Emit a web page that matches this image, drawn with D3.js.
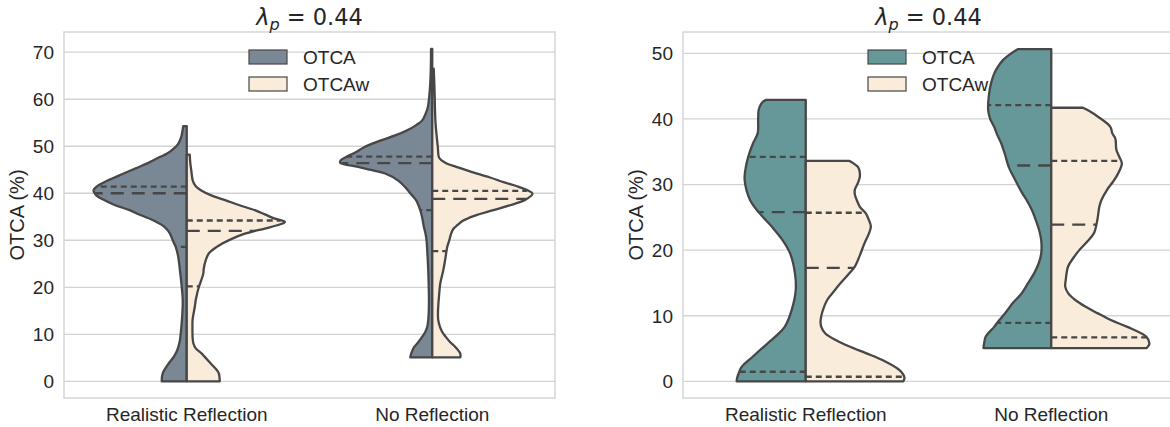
<!DOCTYPE html>
<html><head><meta charset="utf-8">
<script src="https://cdn.jsdelivr.net/npm/d3@7"></script>
<style>
html,body{margin:0;padding:0;background:#fff;}
svg{display:block;}
text{font-family:"Liberation Sans",Arial,sans-serif;fill:#262626;}
</style></head>
<body>
<svg id="chart" width="1170" height="427"></svg>
<script>
// ---------------- DATA ----------------
const categories = ["Realistic Reflection", "No Reflection"];
const seriesNames = ["OTCA", "OTCAw"];
const titleValue = "0.44";
const yLabel = "OTCA (%)";
const leftTicks = [0, 10, 20, 30, 40, 50, 60, 70];
const rightTicks = [0, 10, 20, 30, 40, 50];

// density profiles: [value, relative half-width]
// left panel
const L_real_OTCA = [[0,0.25],[1.7,0.24],[3.8,0.18],[5.2,0.13],[6.6,0.095],[8.5,0.07],[10.2,0.06],[14,0.045],[17.3,0.04],[20.1,0.05],[23,0.065],[26.5,0.085],[28.6,0.11],[30,0.14],[31.5,0.17],[32.8,0.22],[34.2,0.33],[35.7,0.50],[36.4,0.57],[37.5,0.72],[38.5,0.82],[39.5,0.90],[40.6,0.93],[41.7,0.88],[42.7,0.79],[44.2,0.63],[45.3,0.51],[46.3,0.40],[47.7,0.27],[48.4,0.20],[49.5,0.13],[50.5,0.085],[52,0.055],[54.3,0.035]];
const L_real_OTCAw = [[0,0.33],[1.7,0.32],[2.4,0.30],[3.8,0.24],[5.2,0.18],[5.9,0.15],[7,0.09],[8.1,0.066],[9.5,0.058],[11.6,0.057],[13,0.058],[15.8,0.08],[17.3,0.09],[20,0.12],[21.5,0.145],[22.9,0.165],[24,0.17],[25.8,0.19],[27.2,0.22],[28.6,0.30],[29.3,0.355],[30.3,0.45],[31.4,0.58],[32.5,0.78],[33.3,0.92],[33.9,0.98],[34.6,0.88],[35.5,0.78],[36.4,0.68],[37.5,0.52],[38.5,0.39],[39.5,0.25],[40.6,0.145],[41.5,0.09],[42.7,0.06],[44.9,0.045],[46.5,0.035],[48.2,0.03]];
const L_none_OTCA = [[5.1,0.22],[5.9,0.21],[7.3,0.18],[8.3,0.14],[9.5,0.10],[10.5,0.07],[11.6,0.05],[13,0.04],[16.6,0.033],[20,0.035],[23.6,0.04],[27,0.048],[30,0.057],[31.4,0.067],[33,0.085],[34.2,0.095],[35.7,0.11],[37,0.13],[38.5,0.16],[40,0.22],[41.3,0.27],[42.7,0.34],[44.2,0.47],[44.9,0.60],[45.6,0.74],[46.5,0.92],[47.1,0.91],[47.7,0.86],[48.8,0.76],[49.8,0.68],[51.2,0.52],[52.3,0.37],[53.4,0.25],[54.5,0.16],[55.5,0.10],[57,0.065],[58.3,0.044],[61.8,0.025],[66,0.015],[70.7,0.012]];
const L_none_OTCAw = [[5.1,0.28],[5.9,0.28],[7.3,0.23],[8.3,0.18],[9.5,0.133],[10.5,0.10],[11.6,0.077],[13,0.06],[14.4,0.057],[16,0.06],[18,0.067],[20.8,0.08],[23.6,0.11],[26,0.13],[28.6,0.15],[30,0.17],[31.5,0.19],[32.4,0.21],[33.2,0.25],[34.2,0.31],[35.2,0.42],[36.4,0.61],[37.8,0.83],[38.5,0.92],[39.9,1.00],[41.3,0.87],[42.3,0.72],[43.4,0.57],[44.5,0.40],[45.6,0.24],[46.5,0.13],[47.5,0.07],[49.8,0.056],[52,0.045],[54.8,0.033],[58,0.027],[61.8,0.023],[66.5,0.015]];
// right panel
const R_real_OTCA = [[0,0.69],[0.5,0.685],[1.2,0.67],[2.2,0.64],[3.75,0.53],[5.8,0.38],[7,0.29],[8.3,0.21],[10.9,0.14],[13.9,0.10],[16.5,0.108],[19.5,0.156],[21.5,0.23],[23.6,0.34],[25.6,0.46],[27.6,0.555],[30.7,0.61],[32.5,0.60],[34.2,0.575],[36.3,0.526],[37.8,0.48],[40,0.475],[41.4,0.47],[42.3,0.445],[42.7,0.42],[42.9,0.40]];
const R_real_OTCAw = [[0,0.975],[0.6,0.985],[1.7,0.936],[3.2,0.77],[4.3,0.60],[5.3,0.437],[6.3,0.30],[7.3,0.196],[8.3,0.155],[9.3,0.148],[10.8,0.17],[12.4,0.214],[13.7,0.28],[14.9,0.344],[16.2,0.42],[17.5,0.49],[19.2,0.54],[21,0.585],[22.5,0.63],[23.6,0.65],[24.6,0.63],[25.6,0.60],[26.6,0.54],[27.6,0.51],[28.5,0.49],[29.2,0.49],[30.2,0.52],[31.2,0.54],[32.2,0.535],[32.7,0.52],[33.3,0.47],[33.6,0.437]];
const R_none_OTCA = [[5.07,0.677],[5.8,0.67],[6.8,0.655],[8.3,0.57],[9.3,0.52],[10.4,0.46],[12,0.38],[13.4,0.296],[15,0.23],[16.5,0.17],[18,0.125],[19.5,0.10],[21.5,0.10],[23,0.12],[24.6,0.155],[26,0.19],[27.6,0.245],[28.7,0.29],[30.7,0.36],[32.7,0.425],[34.5,0.46],[36.3,0.50],[37.6,0.54],[38.8,0.57],[40,0.61],[41.4,0.63],[43.9,0.62],[45.5,0.60],[46.9,0.57],[48,0.53],[49,0.48],[50,0.40],[50.65,0.33]];
const R_none_OTCAw = [[5.05,0.95],[5.5,0.975],[5.8,0.98],[6.8,0.95],[8.3,0.76],[9.3,0.60],[10.4,0.46],[11.4,0.34],[12.4,0.24],[13.4,0.17],[14.4,0.14],[15.5,0.145],[17.5,0.168],[18.8,0.22],[20,0.28],[21.3,0.36],[22.6,0.427],[24.6,0.46],[26.6,0.48],[27.6,0.50],[29.2,0.557],[30.5,0.62],[31.7,0.668],[33.2,0.705],[34.2,0.68],[35.3,0.65],[37,0.64],[37.8,0.61],[38.8,0.59],[40.3,0.47],[41.2,0.38],[41.7,0.316]];

// quartiles [Q1, median, Q3]
const L_real_OTCA_q = [28.6, 40.0, 41.4];
const L_real_OTCAw_q = [20.2, 32.0, 34.2];
const L_none_OTCA_q = [36.4, 46.4, 47.8];
const L_none_OTCAw_q = [27.7, 38.8, 40.5];
const R_real_OTCA_q = [1.46, 25.8, 34.2];
const R_real_OTCAw_q = [0.7, 17.3, 25.7];
const R_none_OTCA_q = [8.9, 32.9, 42.1];
const R_none_OTCAw_q = [6.7, 23.9, 33.6];

// ---------------- DRAW ----------------
const svg = d3.select("#chart");
const LINE = "#474747";
const GRID = "#d3d3d3";

function interpW(prof, v) {
  for (let i = 0; i < prof.length - 1; i++) {
    const a = prof[i], b = prof[i+1];
    if (v >= a[0] && v <= b[0]) {
      const t = (v - a[0]) / (b[0] - a[0]);
      return a[1] + t * (b[1] - a[1]);
    }
  }
  return v < prof[0][0] ? prof[0][1] : prof[prof.length-1][1];
}

function panel(cfg) {
  const x = d3.scaleBand().domain(categories).range(cfg.xr).padding(0);
  const y = d3.scaleLinear().domain(cfg.yd).range([398, 32]);
  const w = d3.scaleLinear().domain([0, 1]).range([0, x.bandwidth() * 0.408]);
  const g = svg.append("g");
  const x0 = cfg.xr[0], x1 = cfg.xr[1];
  // grid
  g.selectAll(".grid").data(cfg.ticks).join("line")
    .attr("x1", x0).attr("x2", x1)
    .attr("y1", d => y(d)).attr("y2", d => y(d))
    .attr("stroke", GRID).attr("stroke-width", 1.3);
  // frame
  g.append("rect").attr("x", x0).attr("y", 32).attr("width", x1 - x0).attr("height", 366)
    .attr("fill", "none").attr("stroke", GRID).attr("stroke-width", 1.4);
  // y tick labels
  g.selectAll(".yt").data(cfg.ticks).join("text")
    .attr("x", x0 - 10).attr("y", d => y(d)).attr("dy", "0.36em")
    .attr("text-anchor", "end").attr("font-size", 19).text(d => d);
  // x tick labels
  g.selectAll(".xt").data(categories).join("text")
    .attr("x", d => x(d) + x.bandwidth() / 2).attr("y", 421)
    .attr("text-anchor", "middle").attr("font-size", 19).text(d => d);
  // y label
  g.append("text").attr("transform", `translate(${cfg.ylx},215) rotate(-90)`)
    .attr("text-anchor", "middle").attr("font-size", 20).text(yLabel);
  // title
  const t = g.append("text").attr("x", (x0 + Math.min(x1, 1174)) / 2).attr("y", 25)
    .attr("text-anchor", "middle").style("font-family", "'DejaVu Sans',sans-serif").attr("font-size", 22.5);
  t.append("tspan").attr("font-style", "italic").text("λ");
  t.append("tspan").attr("font-style", "italic").attr("font-size", 16).attr("dy", 5).text("p");
  t.append("tspan").attr("dy", -5).text(" = " + titleValue);

  const line = d3.line().curve(d3.curveCatmullRom.alpha(0.5));
  cfg.violins.forEach(vd => {
    const cx = x(vd.cat) + x.bandwidth() / 2;
    const s = vd.side;
    const prof = vd.prof;
    const pts = prof.map(p => [cx + s * w(p[1]), y(p[0])]);
    const side = line(pts);
    const vmin = prof[0][0], vmax = prof[prof.length-1][0];
    const d = `M${cx},${y(vmin)}L` + side.slice(1) + `L${cx},${y(vmax)}Z`;
    g.append("path").attr("d", d).attr("fill", vd.color)
      .attr("stroke", LINE).attr("stroke-width", 2.3).attr("stroke-linejoin", "round");
    vd.q.forEach((qv, i) => {
      const hw = w(interpW(prof, qv));
      g.append("line").attr("x1", cx).attr("x2", cx + s * hw)
        .attr("y1", y(qv)).attr("y2", y(qv))
        .attr("stroke", LINE).attr("stroke-width", 2.3)
        .attr("stroke-dasharray", i === 1 ? "13,8" : "6,4");
    });
  });
  // legend
  const lg = g.append("g");
  cfg.legendColors.forEach((c, i) => {
    lg.append("rect").attr("x", cfg.lx).attr("y", 50 + i * 27).attr("width", 38).attr("height", 14)
      .attr("fill", c).attr("stroke", LINE).attr("stroke-width", 1.2);
    lg.append("text").attr("x", cfg.lx + 54).attr("y", 64 + i * 27).attr("font-size", 19).text(seriesNames[i]);
  });
}

const leftColors = ["#7a8795", "#f9ecda"];
const rightColors = ["#66989a", "#f9ecda"];

panel({
  xr: [64, 555], yd: [-3.55, 74.3], ticks: leftTicks, ylx: 24, lx: 249,
  legendColors: leftColors,
  violins: [
    {cat: categories[0], side: -1, prof: L_real_OTCA, q: L_real_OTCA_q, color: leftColors[0]},
    {cat: categories[0], side: 1, prof: L_real_OTCAw, q: L_real_OTCAw_q, color: leftColors[1]},
    {cat: categories[1], side: -1, prof: L_none_OTCA, q: L_none_OTCA_q, color: leftColors[0]},
    {cat: categories[1], side: 1, prof: L_none_OTCAw, q: L_none_OTCAw_q, color: leftColors[1]}
  ]
});
panel({
  xr: [683, 1174], yd: [-2.54, 53.25], ticks: rightTicks, ylx: 643, lx: 868,
  legendColors: rightColors,
  violins: [
    {cat: categories[0], side: -1, prof: R_real_OTCA, q: R_real_OTCA_q, color: rightColors[0]},
    {cat: categories[0], side: 1, prof: R_real_OTCAw, q: R_real_OTCAw_q, color: rightColors[1]},
    {cat: categories[1], side: -1, prof: R_none_OTCA, q: R_none_OTCA_q, color: rightColors[0]},
    {cat: categories[1], side: 1, prof: R_none_OTCAw, q: R_none_OTCAw_q, color: rightColors[1]}
  ]
});
</script>
</body></html>
